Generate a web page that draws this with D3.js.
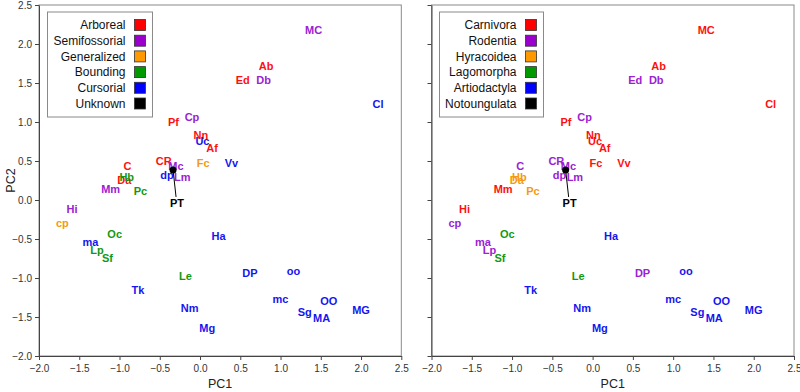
<!DOCTYPE html>
<html>
<head>
<meta charset="utf-8">
<script src="https://cdn.jsdelivr.net/npm/d3@7"></script>
<style>
  html, body { margin: 0; padding: 0; background: #fff; }
  svg { display: block; font-family: "Liberation Sans", Arial, sans-serif; }
</style>
</head>
<body>
<svg id="chart" width="800" height="392"></svg>
<script>
// ---------- data ----------
const labels = ["MC","Ab","Ed","Db","Cl","Cp","Pf","Nn","Uc","Af","Fc","Vv","CR","Mc","dp","Lm",
                "C","Da","Hb","Mm","Pc","Hi","cp","Oc","ma","Lp","Sf","Ha","Le","DP","oo","Tk",
                "Nm","Mg","mc","OO","Sg","MA","MG"];
const pc1 = [1.41,0.82,0.53,0.79,2.21,-0.10,-0.33,0.01,0.03,0.15,0.04,0.39,-0.45,-0.30,-0.41,-0.22,
             -0.90,-0.94,-0.91,-1.11,-0.74,-1.59,-1.71,-1.06,-1.36,-1.28,-1.15,0.23,-0.18,0.62,1.16,-0.77,
             -0.13,0.09,1.00,1.60,1.30,1.51,2.00];
const pc2 = [2.18,1.72,1.54,1.54,1.23,1.06,1.00,0.83,0.76,0.67,0.47,0.48,0.50,0.44,0.32,0.29,
             0.44,0.26,0.29,0.14,0.12,-0.11,-0.29,-0.44,-0.54,-0.64,-0.74,-0.46,-0.98,-0.94,-0.91,-1.16,
             -1.38,-1.64,-1.27,-1.29,-1.44,-1.51,-1.41];
// locomotion category index (left panel)
const locomotion = [1,0,0,1,4,1,0,0,4,0,2,4,0,1,4,1,
                    0,0,3,1,3,1,2,3,4,3,3,4,3,4,4,4,
                    4,4,4,4,4,4,4];
// taxonomic order index (right panel)
const taxon = [0,0,1,1,0,1,0,0,0,0,0,0,1,1,1,1,
               1,2,2,0,2,0,1,3,1,1,3,4,3,1,4,4,
               4,4,4,4,4,4,4];
const locomotionNames = ["Arboreal","Semifossorial","Generalized","Bounding","Cursorial","Unknown"];
const taxonNames = ["Carnivora","Rodentia","Hyracoidea","Lagomorpha","Artiodactyla","Notoungulata"];
const fossil = {label: "PT", pc1: -0.335, pc2: 0.385};
const xTicks = [-2.0,-1.5,-1.0,-0.5,0.0,0.5,1.0,1.5,2.0,2.5];
const yTicks = [-2.0,-1.5,-1.0,-0.5,0.0,0.5,1.0,1.5,2.0,2.5];

// ---------- styles ----------
const palette = ["#ff0000","#9900cc","#ff9900","#009900","#0000ff","#000000"];
const textPalette = ["#ff1010","#9a22d2","#f59a10","#119911","#1515f0","#000000"];

const svg = d3.select("#chart");

function panel(opts) {
  const x = d3.scaleLinear().domain([-2, 2.5]).range([opts.left, opts.right]);
  const y = d3.scaleLinear().domain([-2, 2.5]).range([356, 5]);
  const g = svg.append("g");

  // frame (top/right)
  g.append("rect").attr("x", opts.left).attr("y", 5)
    .attr("width", opts.right - opts.left).attr("height", 351)
    .attr("fill", "none").attr("stroke", "#8a8a8a").attr("stroke-width", 1);

  // axes
  const xAxis = d3.axisBottom(x).tickValues(xTicks).tickFormat(d3.format(".1f")).tickSize(4).tickSizeOuter(0);
  const yAxis = d3.axisLeft(y).tickValues(yTicks).tickFormat(opts.yLabels ? d3.format(".1f") : "").tickSize(4).tickSizeOuter(0);
  const gx = g.append("g").attr("transform", `translate(0,356)`).call(xAxis);
  const gy = g.append("g").attr("transform", `translate(${opts.left},0)`).call(yAxis);
  [gx, gy].forEach(a => {
    a.select(".domain").attr("stroke", "#444");
    a.selectAll(".tick line").attr("stroke", "#444");
    a.selectAll(".tick text").attr("fill", "#333").style("font-size", "10px")
      .style("font-family", "'Liberation Sans', Arial, sans-serif");
  });
  gx.selectAll(".tick text").attr("dy", "0.9em");

  // axis titles
  g.append("text").attr("x", (opts.left + opts.right) / 2).attr("y", 388)
    .attr("text-anchor", "middle").attr("fill", "#222").style("font-size", "12.5px").text("PC1");
  if (opts.yLabels) {
    g.append("text").attr("transform", `translate(15,${(5 + 356) / 2}) rotate(-90)`)
      .attr("text-anchor", "middle").attr("fill", "#222").style("font-size", "12.5px").text("PC2");
  }

  // labels
  g.append("g").selectAll("text").data(labels).join("text")
    .attr("x", (d, i) => x(pc1[i]))
    .attr("y", (d, i) => y(pc2[i]))
    .attr("dy", "0.36em")
    .attr("text-anchor", "middle")
    .attr("fill", (d, i) => textPalette[opts.cat[i]])
    .style("font-size", "11px").style("font-weight", "bold")
    .text(d => d);

  // fossil point with leader line
  const fx = x(fossil.pc1), fy = y(fossil.pc2);
  g.append("line").attr("x1", fx).attr("y1", fy).attr("x2", fx + 3).attr("y2", fy + 27)
    .attr("stroke", "#000").attr("stroke-width", 1);
  g.append("circle").attr("cx", fx).attr("cy", fy).attr("r", 3.5).attr("fill", "#000");
  g.append("text").attr("x", fx + 4).attr("y", fy + 33).attr("dy", "0.36em")
    .attr("text-anchor", "middle").attr("fill", "#000")
    .style("font-size", "11px").style("font-weight", "bold").text(fossil.label);

  // legend
  const lg = g.append("g");
  lg.append("rect").attr("x", opts.legX).attr("y", 12).attr("width", opts.legW).attr("height", 105)
    .attr("fill", "#fff").attr("stroke", "#8a8a8a").attr("stroke-width", 1);
  opts.names.forEach((n, i) => {
    const cy = 25 + i * 15.7;
    lg.append("text").attr("x", opts.legX + opts.legW - 27).attr("y", cy).attr("dy", "0.35em")
      .attr("text-anchor", "end").attr("fill", "#111").style("font-size", "12px").text(n);
    lg.append("rect").attr("x", opts.legX + opts.legW - 18).attr("y", cy - 5.5)
      .attr("width", 11).attr("height", 11)
      .attr("fill", palette[i]).attr("stroke", "#333").attr("stroke-width", 0.8);
  });
}

panel({left: 39, right: 401.3, yLabels: true, cat: locomotion, names: locomotionNames, legX: 47.5, legW: 105});
panel({left: 431.5, right: 794, yLabels: false, cat: taxon, names: taxonNames, legX: 439.5, legW: 104});
</script>
</body>
</html>
